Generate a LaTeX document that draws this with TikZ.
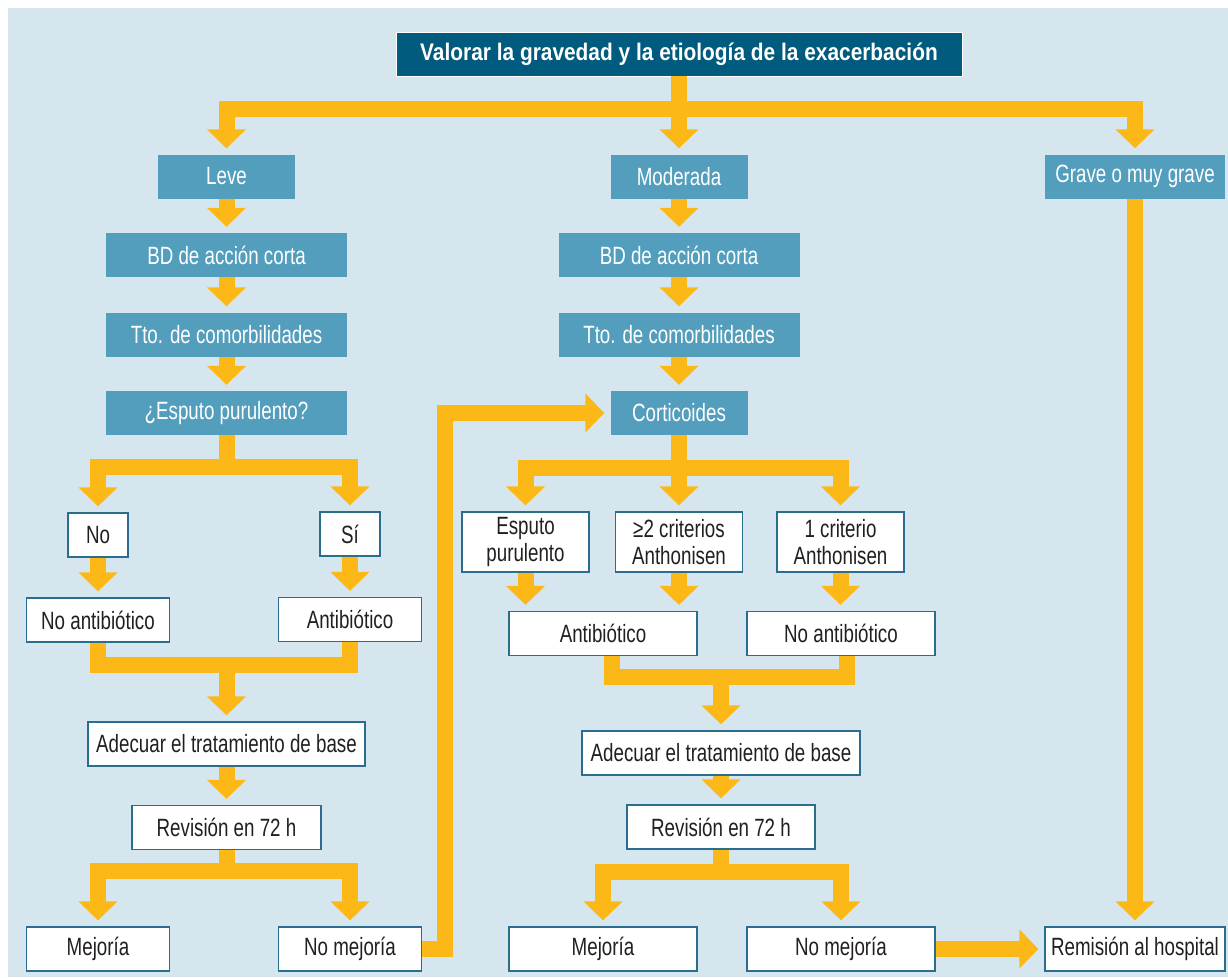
\documentclass[tikz,border=0pt]{standalone}
\usepackage{fontspec}
\setsansfont{Liberation Sans}[FakeStretch=0.75]
\newfontfamily\titlefont{Liberation Sans}[FakeStretch=0.87]
\definecolor{semfondo}{RGB}{214,230,239}
\definecolor{semazul}{RGB}{82,158,188}
\definecolor{semoscuro}{RGB}{0,91,126}
\definecolor{semborde}{RGB}{43,109,140}
\definecolor{semamarillo}{RGB}{251,184,23}
\definecolor{semtexto}{RGB}{35,31,32}
\tikzset{every picture/.style={/utils/exec={\sffamily}}}
\usetikzlibrary{arrows.meta}
\usetikzlibrary{calc}

\begin{document}
\begin{tikzpicture}[x=1pt,y=-1pt]
	\tikzstyle{titlebox}=[fill=semoscuro,draw=white,line width=0.8pt,text=white,font=\titlefont\fontsize{24}{26}\selectfont\bfseries,minimum width=566pt,minimum height=44pt,inner sep=0pt]
	\tikzstyle{levelbox}=[fill=semazul,text=white,font=\fontsize{25}{27}\selectfont,minimum height=44pt,inner sep=0pt]
	\tikzstyle{whitebox}=[fill=white,draw=semborde,line width=1.2pt,text=semtexto,font=\fontsize{25}{27}\selectfont,align=center,minimum height=44pt,inner sep=0pt]
	\tikzstyle{flow}=[draw=semamarillo,line width=16pt,line join=miter,-{Triangle[width=38pt,length=19pt]},shorten >=6pt]
	\tikzstyle{flowline}=[draw=semamarillo,line width=16pt,line join=miter]
	\useasboundingbox (0,0) rectangle (1228,977);
	\fill[semfondo] (8,8) rectangle (1228,977);
	\node[titlebox] (valorar) at (679,54) {Valorar la gravedad y la etiología de la exacerbación};
	\node[levelbox,minimum width=137pt] (leve) at (226.5,176.5) {Leve};
	\node[levelbox,minimum width=137pt] (moderada) at (679,176.5) {Moderada};
	\node[levelbox,minimum width=180pt] (grave) at (1135,176.5) {Grave o muy grave};
	% leve
	\node[levelbox,minimum width=241pt] (bdleve) at (226.5,255) {BD de acción corta};
	\node[levelbox,minimum width=241pt] (ttoleve) at (226.5,334.5) {Tto. de comorbilidades};
	\node[levelbox,minimum width=241pt] (esputoleve) at (226.5,413) {¿Esputo purulento?};
	\node[whitebox,minimum width=60pt] (no) at (98,535) {No};
	\node[whitebox,minimum width=60pt] (si) at (350,534) {Sí};
	\node[whitebox,minimum width=143pt] (noableve) at (98,620) {No antibiótico};
	\node[whitebox,minimum width=143pt] (ableve) at (350,619.5) {Antibiótico};
	\node[whitebox,minimum width=277pt] (adecleve) at (226.5,744) {Adecuar el tratamiento de base};
	\node[whitebox,minimum width=189pt] (revleve) at (226.5,827.5) {Revisión en 72 h};
	\node[whitebox,minimum width=143pt] (mejleve) at (98,949) {Mejoría};
	\node[whitebox,minimum width=143pt] (nomejleve) at (350,949) {No mejoría};
	% moderada
	\node[levelbox,minimum width=241pt] (bdmod) at (679,255) {BD de acción corta};
	\node[levelbox,minimum width=241pt] (ttomod) at (679,334.5) {Tto. de comorbilidades};
	\node[levelbox,minimum width=137pt] (cortic) at (679,413) {Corticoides};
	\node[whitebox,minimum width=127pt,minimum height=60pt] (esputomod) at (525.5,542) {Esputo\\purulento};
	\node[whitebox,minimum width=127pt,minimum height=60pt] (crit2) at (679,542) {≥2 criterios\\Anthonisen};
	\node[whitebox,minimum width=127pt,minimum height=60pt] (crit1) at (840.5,542) {1 criterio\\Anthonisen};
	\node[whitebox,minimum width=188pt] (abmod) at (603,633.5) {Antibiótico};
	\node[whitebox,minimum width=188pt] (noabmod) at (841,633.5) {No antibiótico};
	\node[whitebox,minimum width=278pt] (adecmod) at (721,753) {Adecuar el tratamiento de base};
	\node[whitebox,minimum width=188pt] (revmod) at (721,827) {Revisión en 72 h};
	\node[whitebox,minimum width=188pt] (mejmod) at (603,949) {Mejoría};
	\node[whitebox,minimum width=188pt] (nomejmod) at (841,949) {No mejoría};
	% grave
	\node[whitebox,minimum width=180pt] (remision) at (1135,949) {Remisión al hospital};
	% arrows
	\coordinate (c1) at (679,109);
	\coordinate (c2) at (226.5,467);
	\coordinate (c3) at (226.5,665);
	\coordinate (c4) at (226.5,871);
	\coordinate (c5) at (445,949);
	\coordinate (c6) at (679,468);
	\coordinate (c7) at (721,677);
	\coordinate (c8) at (721,872);
	\draw[flow] (valorar) -- (moderada);
	\draw[flow] (c1) -| (leve);
	\draw[flow] (c1) -| (grave);
	\draw[flow] (leve) -- (bdleve);
	\draw[flow] (bdleve) -- (ttoleve);
	\draw[flow] (ttoleve) -- (esputoleve);
	\draw[flowline] (esputoleve) -- (c2);
	\draw[flow] (c2) -| (no);
	\draw[flow] (c2) -| (si);
	\draw[flow] (no) -- (noableve);
	\draw[flow] (si) -- (ableve);
	\draw[flowline] (noableve) |- (c3);
	\draw[flowline] (ableve) |- (c3);
	\draw[flow] (c3) -- (adecleve);
	\draw[flow] (adecleve) -- (revleve);
	\draw[flowline] (revleve) -- (c4);
	\draw[flow] (c4) -| (mejleve);
	\draw[flow] (c4) -| (nomejleve);
	\draw[flow] (nomejleve) -- (c5) |- (cortic);
	\draw[flow] (moderada) -- (bdmod);
	\draw[flow] (bdmod) -- (ttomod);
	\draw[flow] (ttomod) -- (cortic);
	\draw[flow] (cortic) -- (crit2);
	\draw[flow] (c6) -| (esputomod);
	\draw[flow] (c6) -| (crit1);
	\draw[flow] (esputomod) -- (esputomod |- abmod.north);
	\draw[flow] (crit2) -- (crit2 |- abmod.north);
	\draw[flow] (crit1) -- (crit1 |- noabmod.north);
	\draw[flowline] ([xshift=9pt]abmod.south) |- (c7);
	\draw[flowline] ([xshift=6pt]noabmod.south) |- (c7);
	\draw[flow] (c7) -- (adecmod);
	\draw[flow] (adecmod) -- (revmod);
	\draw[flowline] (revmod) -- (c8);
	\draw[flow] (c8) -| (mejmod);
	\draw[flow] (c8) -| (nomejmod);
	\draw[flow] (nomejmod) -- (remision);
	\draw[flow] (grave) -- (remision);
\end{tikzpicture}
\end{document}
